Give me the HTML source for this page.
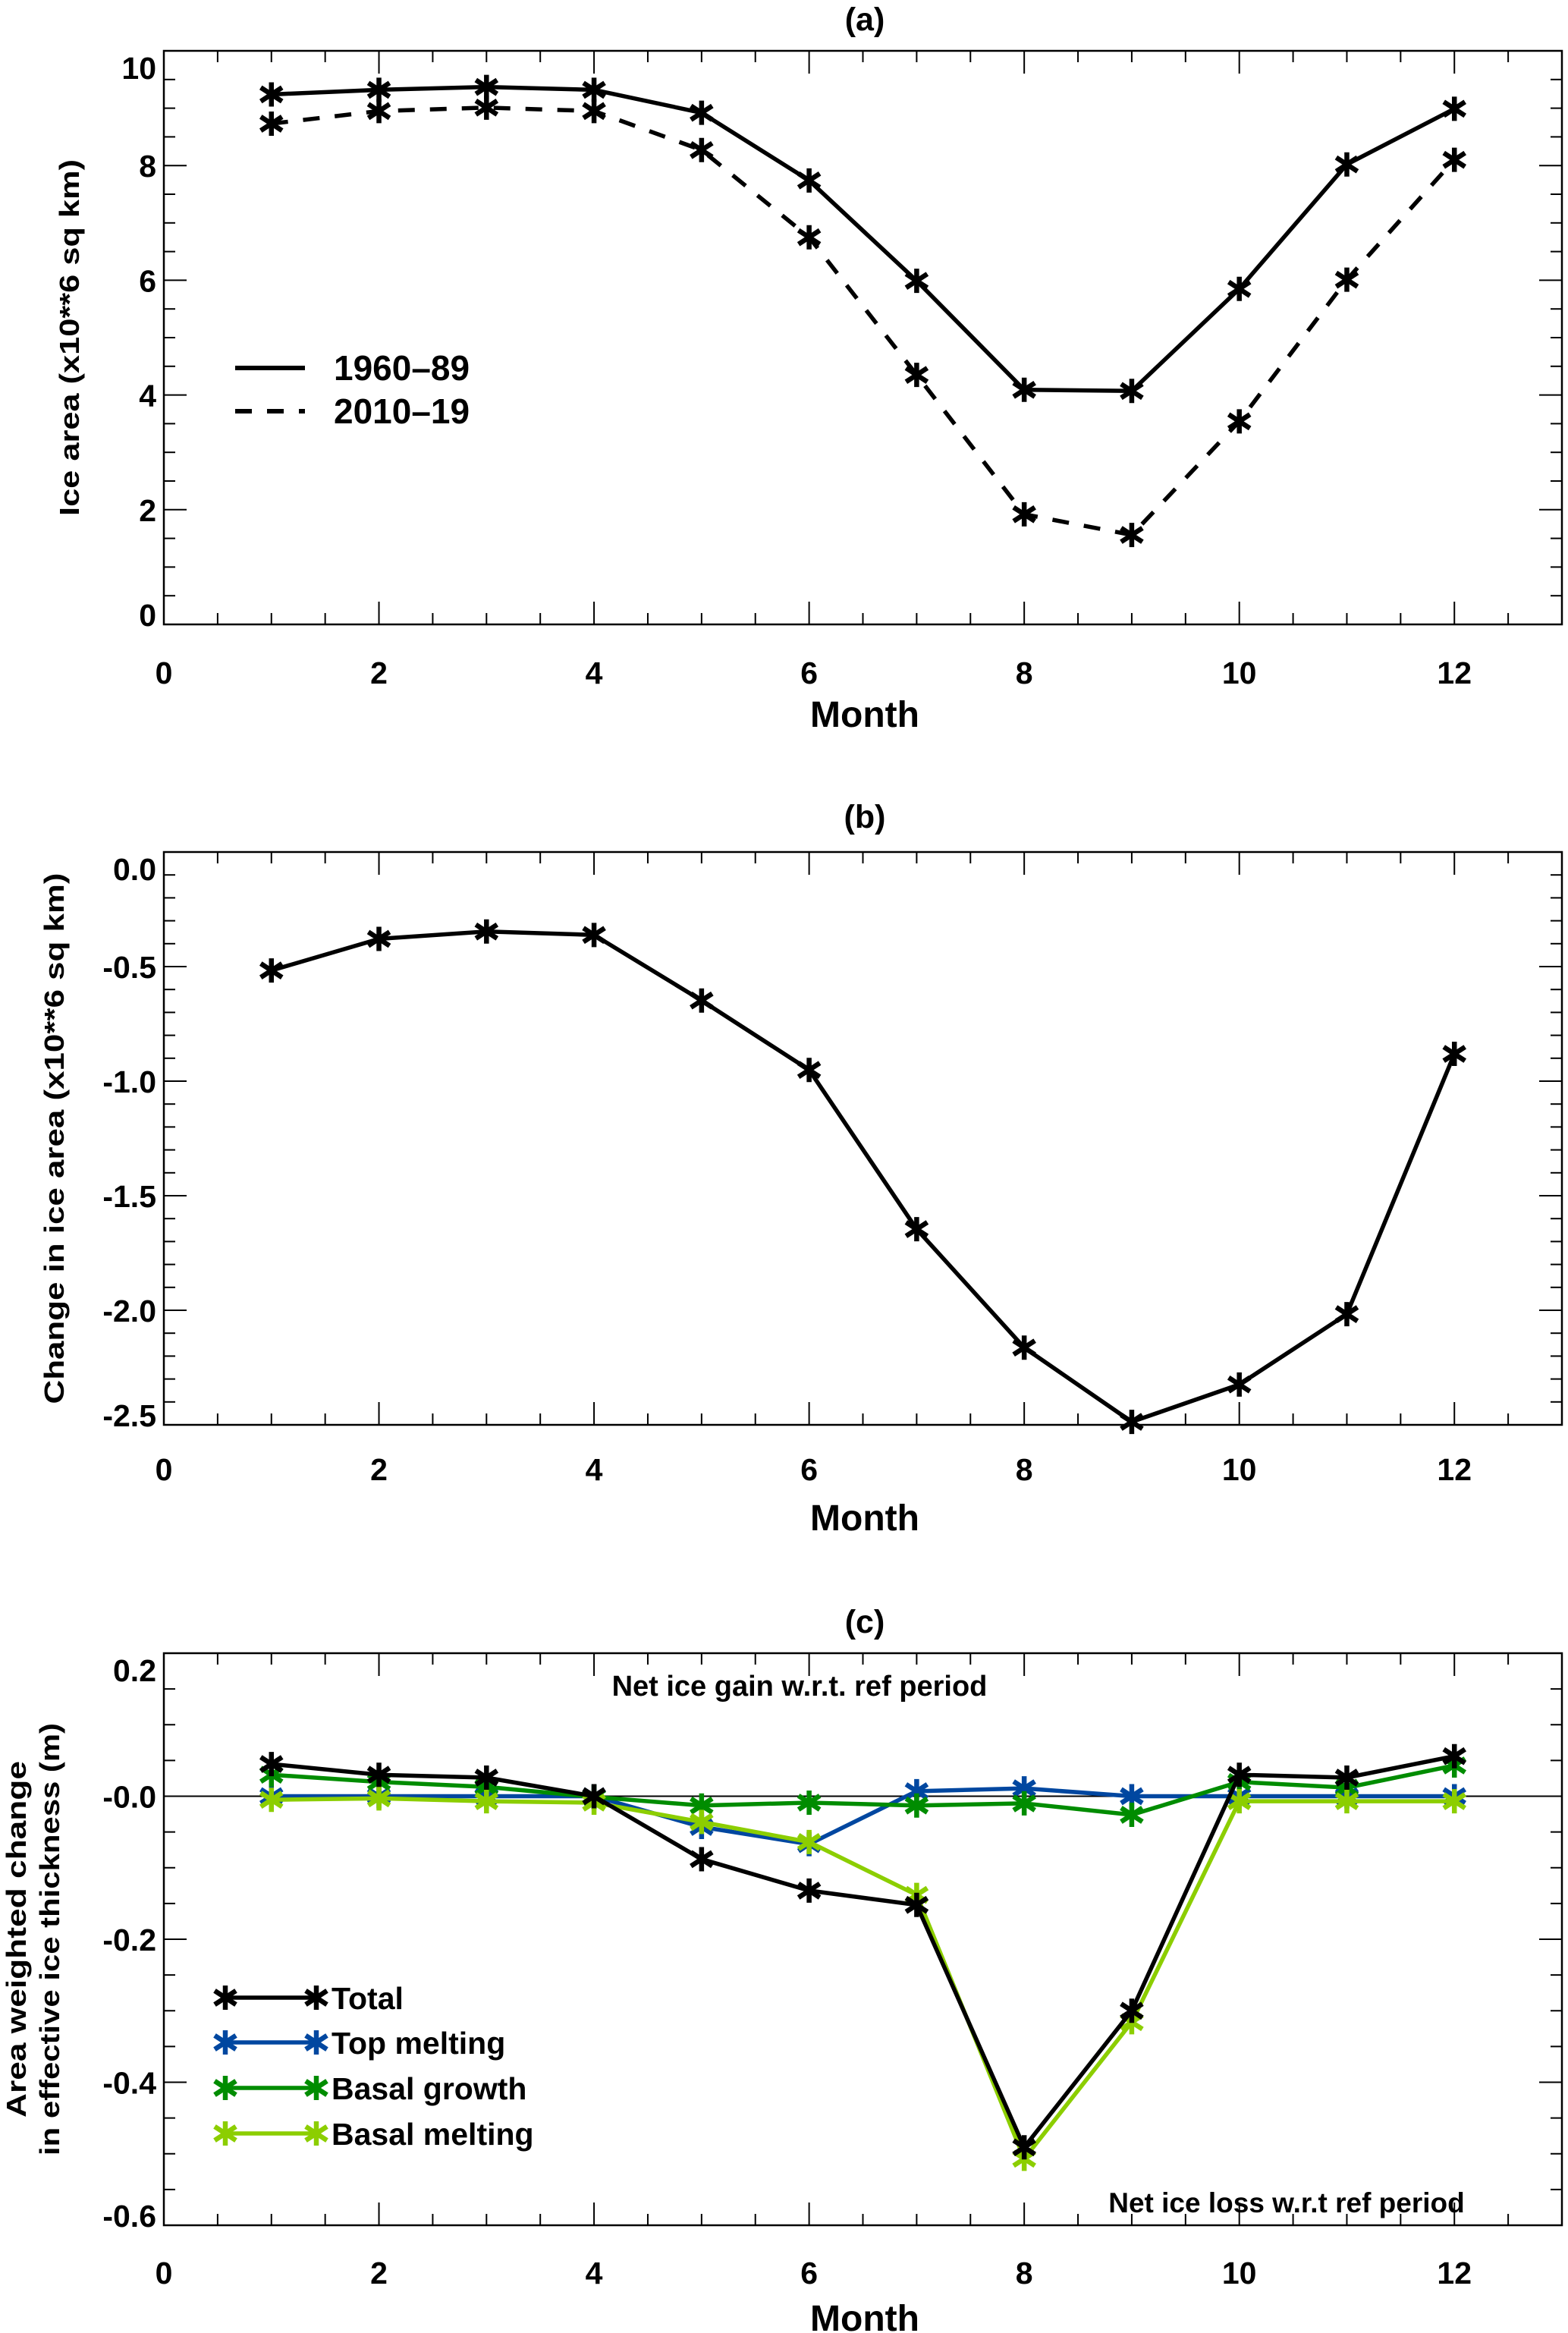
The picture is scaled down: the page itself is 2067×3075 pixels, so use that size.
<!DOCTYPE html>
<html><head><meta charset="utf-8">
<style>
html,body{margin:0;padding:0;background:#fff;}
svg{display:block;font-family:"Liberation Sans",Arial,sans-serif;font-weight:bold;}
</style></head>
<body>
<svg id="fig" width="2067" height="3075" viewBox="0 0 2067 3075" xmlns="http://www.w3.org/2000/svg"></svg>
<script>
const months = [1,2,3,4,5,6,7,8,9,10,11,12];
const areaRef = [9.24,9.32,9.37,9.32,8.92,7.74,5.99,4.09,4.07,5.85,8.02,8.99];
const areaRecent = [8.73,8.95,9.01,8.95,8.27,6.75,4.35,1.92,1.56,3.54,6.01,8.10];
const areaChange = [-0.517,-0.379,-0.347,-0.362,-0.648,-0.951,-1.646,-2.163,-2.487,-2.324,-2.017,-0.881];
const thickTotal = [0.045,0.030,0.026,0.000,-0.088,-0.132,-0.152,-0.491,-0.300,0.030,0.026,0.056];
const thickTopMelt = [0.000,0.000,0.000,0.000,-0.043,-0.067,0.007,0.011,0.000,0.000,0.000,0.000];
const thickBasalGrowth = [0.030,0.020,0.013,-0.001,-0.013,-0.009,-0.013,-0.010,-0.026,0.020,0.012,0.043];
const thickBasalMelt = [-0.005,-0.003,-0.007,-0.009,-0.036,-0.064,-0.138,-0.507,-0.316,-0.007,-0.007,-0.007];
const xTickLabels = ["0","2","4","6","8","10","12"];
const yTicksA = ["0","2","4","6","8","10"];
const yTicksB = ["-2.5","-2.0","-1.5","-1.0","-0.5","0.0"];
const yTicksC = ["-0.6","-0.4","-0.2","-0.0","0.2"];

const NS="http://www.w3.org/2000/svg";
const svg=document.getElementById('fig');
function mk(tag,attrs,parent){const e=document.createElementNS(NS,tag);for(const k in attrs)e.setAttribute(k,attrs[k]);(parent||svg).appendChild(e);return e;}
const L=216,R=2059,XMIN=0,XMAX=13;
function xs(v){return L+(v-XMIN)/(XMAX-XMIN)*(R-L);}

function star(g,x,y,color){
  const s=mk('g',{},g);
  
  
  const r=16,d=14;
  mk('line',{x1:x,y1:y-r,x2:x,y2:y+r,stroke:color,'stroke-width':6.5},s);
  mk('line',{x1:x-d,y1:y-d*0.65,x2:x+d,y2:y+d*0.65,stroke:color,'stroke-width':6.5},s);
  mk('line',{x1:x-d,y1:y+d*0.65,x2:x+d,y2:y-d*0.65,stroke:color,'stroke-width':6.5},s);
}

function panel(opt){
  const g=mk('g',{});
  
  
  const T=opt.top,B=opt.bottom;
  const ys=v=>B-(v-opt.ymin)/(opt.ymax-opt.ymin)*(B-T);
  opt.ys=ys;
  const fr=mk('rect',{x:L,y:T,width:R-L,height:B-T,fill:'none',stroke:'#000','stroke-width':2.5},g);
  
  
  for(let v=0;v<=13.001;v+=0.5){
    const major=Math.abs(v/2-Math.round(v/2))<1e-6;
    const len=major?30:15,x=xs(v);
    mk('line',{x1:x,y1:B,x2:x,y2:B-len,stroke:'#000','stroke-width':2},g);
    mk('line',{x1:x,y1:T,x2:x,y2:T+len,stroke:'#000','stroke-width':2},g);
  }
  xTickLabels.forEach(t=>{
    const e=mk('text',{x:xs(+t),y:opt.xlabY+15,'text-anchor':'middle','font-size':41},g);
    e.textContent=t;
    
    
  });
  const n=Math.round((opt.ymax-opt.ymin)/opt.minor);
  for(let i=0;i<=n;i++){
    const v=opt.ymin+i*opt.minor;
    const major=Math.abs(((v-opt.ymin)/opt.major)-Math.round((v-opt.ymin)/opt.major))<1e-6;
    const len=major?30:15,y=ys(v);
    mk('line',{x1:L,y1:y,x2:L+len,y2:y,stroke:'#000','stroke-width':2},g);
    mk('line',{x1:R,y1:y,x2:R-len,y2:y,stroke:'#000','stroke-width':2},g);
  }
  opt.yticks.forEach(t=>{
    let y=ys(parseFloat(t));
    if(Math.abs(y-T)<2)y+=22; if(Math.abs(y-B)<2)y-=13;
    const e=mk('text',{x:L-10,y:y+15,'text-anchor':'end','font-size':41},g);
    e.textContent=t;
    
    
  });
  const tt=mk('text',{x:1140,y:opt.titleY+15,'text-anchor':'middle','font-size':43},g);
  tt.textContent=opt.title;
  
  
  const mt=mk('text',{x:1140,y:opt.monthY+17,'text-anchor':'middle','font-size':48},g);
  mt.textContent='Month';
  
  
  opt.ylab.forEach((lab,i)=>{
    const cy=lab.cy||(T+B)/2;
    const e=mk('text',{x:0,y:0,'text-anchor':'middle','font-size':36,transform:`translate(${lab.x},${cy}) rotate(-90)`,textLength:lab.len,lengthAdjust:'spacingAndGlyphs'},g);
    e.textContent=lab.t;
    
    
  });
  opt.g=g;
  return opt;
}

function series(p,vals,color,dash,name,w){
  const pts=months.map((m,i)=>xs(m)+','+p.ys(vals[i])).join(' ');
  const pl=mk('polyline',{points:pts,fill:'none',stroke:color,'stroke-width':w||5,'stroke-dasharray':dash||'none','stroke-linejoin':'round'},p.g);
  
  
  months.forEach((m,i)=>star(p.g,xs(m),p.ys(vals[i]),color));
}

const pa=panel({name:'panel-a',top:67,bottom:823,ymin:0,ymax:10,major:2,minor:0.5,yticks:yTicksA,title:'(a)',titleY:25,xlabY:886,monthY:941,
  ylab:[{t:'Ice area (x10**6 sq km)',x:104,len:470}]});
series(pa,areaRef,'#000',null,'line-1960-89',5.5);
series(pa,areaRecent,'#000','22,20','line-2010-19',5.5);
[['1960–89',485,null],['2010–19',542,'22,20']].forEach(([t,y,d])=>{
  const l=mk('line',{x1:310,y1:y,x2:402,y2:y,stroke:'#000','stroke-width':6,'stroke-dasharray':d||'none'},pa.g);
  
  
  const e=mk('text',{x:440,y:y+16,'font-size':46},pa.g);
  e.textContent=t;
  
  
});

const pb=panel({name:'panel-b',top:1123,bottom:1878,ymin:-2.5,ymax:0,major:0.5,minor:0.1,yticks:yTicksB,title:'(b)',titleY:1076,xlabY:1936,monthY:2000,
  ylab:[{t:'Change in ice area (x10**6 sq km)',x:84,len:700}]});
series(pb,areaChange,'#000',null,'line-area-change',5.5);

const pc=panel({name:'panel-c',top:2179,bottom:2933,ymin:-0.6,ymax:0.2,major:0.2,minor:0.05,yticks:yTicksC,title:'(c)',titleY:2137,xlabY:2995,monthY:3055,
  ylab:[{t:'Area weighted change',x:34,len:470,cy:2556},{t:'in effective ice thickness (m)',x:78,len:570,cy:2556}]});
const zl=mk('line',{x1:L,y1:pc.ys(0),x2:R,y2:pc.ys(0),stroke:'#000','stroke-width':2},pc.g);


series(pc,thickTopMelt,'#0047a0',null,'line-top-melting',5.5);
series(pc,thickBasalGrowth,'#008c00',null,'line-basal-growth',5.5);
series(pc,thickBasalMelt,'#8cce00',null,'line-basal-melting',5.5);
series(pc,thickTotal,'#000',null,'line-total',5.5);
[['Total','#000',2633],['Top melting','#0047a0',2692],['Basal growth','#008c00',2752],['Basal melting','#8cce00',2812]].forEach(([t,c,y])=>{
  const l=mk('line',{x1:297,y1:y,x2:417,y2:y,stroke:c,'stroke-width':5.5},pc.g);
  
  
  star(pc.g,297,y,c); star(pc.g,417,y,c);
  const e=mk('text',{x:437,y:y+15,'font-size':41},pc.g);
  e.textContent=t;
  
  
});
const a1=mk('text',{x:1054,y:2221+14,'text-anchor':'middle','font-size':38},pc.g);
a1.textContent='Net ice gain w.r.t. ref period';


const a2=mk('text',{x:1696,y:2902+14,'text-anchor':'middle','font-size':37},pc.g);
a2.textContent='Net ice loss w.r.t ref period';


</script>
</body></html>
